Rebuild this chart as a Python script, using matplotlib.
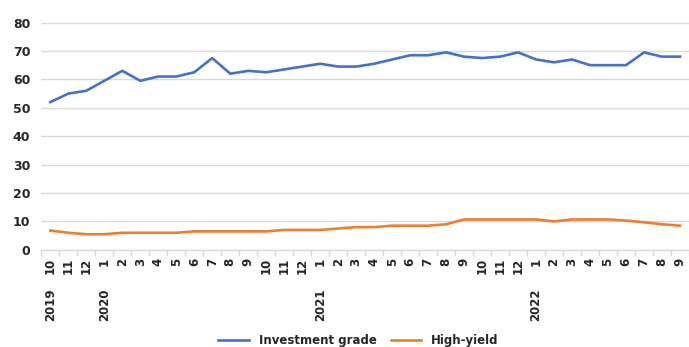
import matplotlib
matplotlib.use("Agg")
import matplotlib.pyplot as plt
import matplotlib.transforms as mtransforms
import numpy as np

BLUE = "#4472C4"
ORANGE = "#ED7D31"
GRID = "#d9d9d9"
TEXT = "#262626"

months = ["10", "11", "12",
          "1", "2", "3", "4", "5", "6", "7", "8", "9", "10", "11", "12",
          "1", "2", "3", "4", "5", "6", "7", "8", "9", "10", "11", "12",
          "1", "2", "3", "4", "5", "6", "7", "8", "9"]
years = ["2019", "2020", "2021", "2022"]
year_start = [0, 3, 15, 27]

investment_grade = [52, 55, 56, 59.5, 63, 59.5, 61, 61, 62.5, 67.5, 62, 63,
                    62.5, 63.5, 64.5, 65.5, 64.5, 64.5, 65.5, 67, 68.5, 68.5,
                    69.5, 68, 67.5, 68, 69.5, 67, 66, 67, 65, 65, 65, 69.5,
                    68, 68]
high_yield = [6.8, 6.0, 5.5, 5.5, 6.0, 6.0, 6.0, 6.0, 6.5, 6.5, 6.5, 6.5,
              6.5, 7.0, 7.0, 7.0, 7.5, 8.0, 8.0, 8.5, 8.5, 8.5, 9.0, 10.7,
              10.7, 10.7, 10.7, 10.7, 10.0, 10.7, 10.7, 10.7, 10.3, 9.7,
              9.0, 8.5]

plt.rcParams.update({
    "font.family": "DejaVu Sans",
    "font.weight": "bold",
    "text.color": TEXT,
})

fig = plt.figure(figsize=(6.89, 3.47), dpi=100)
ax = fig.add_axes([0.06, 0.28, 0.94, 0.655])

x = np.arange(len(months))
ax.plot(x, investment_grade, color=BLUE, lw=1.9, label="Investment grade",
        solid_joinstyle="round")
ax.plot(x, high_yield, color=ORANGE, lw=1.9, label="High-yield",
        solid_joinstyle="round")

ax.set_xlim(-0.5, len(months) - 0.5)
ax.set_ylim(0, 80)
ax.set_yticks(np.arange(0, 81, 10))
ax.yaxis.grid(True, color=GRID, lw=1)
ax.set_axisbelow(True)
for s in ["top", "right", "left"]:
    ax.spines[s].set_visible(False)
ax.spines["bottom"].set_color(GRID)
ax.spines["bottom"].set_linewidth(1)

ax.tick_params(axis="y", length=0, labelsize=9, labelcolor=TEXT, pad=8)
ax.set_xticks(x)
ax.set_xticklabels(months, rotation=90, fontsize=8.5, color=TEXT)
ax.tick_params(axis="x", which="major", length=0, pad=6)
ax.set_xticks(np.arange(-0.5, len(months)), minor=True)
ax.tick_params(axis="x", which="minor", length=4, color=GRID, width=1)

trans = mtransforms.blended_transform_factory(ax.transData, ax.transAxes)
for yr, i in zip(years, year_start):
    ax.text(i, -0.17, yr, rotation=90, ha="center", va="top",
            fontsize=8.5, color=TEXT, transform=trans)

fig.legend(loc="lower center", ncol=2, frameon=False, fontsize=8.5,
           bbox_to_anchor=(0.52, -0.03), handlelength=2.6, columnspacing=1.2)

fig.savefig("out.png", dpi=100, facecolor="white")
